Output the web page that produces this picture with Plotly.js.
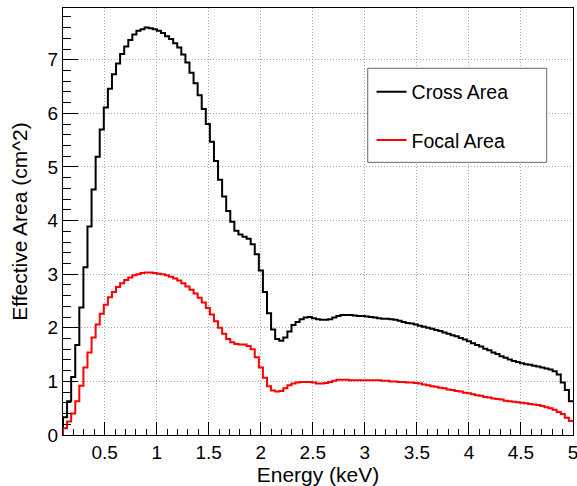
<!DOCTYPE html>
<html>
<head>
<meta charset="utf-8">
<script src="https://cdn.plot.ly/plotly-3.0.1.min.js"></script>
<style>
  html, body { margin: 0; padding: 0; background: #ffffff; }
  #chart { width: 577px; height: 486px; }
</style>
</head>
<body>
<div id="chart"></div>
<script>
// Histogram binning (keV)
const binStart = 0.1;
const binEnd = 5.0;
const nBins = 125;

// Series names
const seriesNames = ["Cross Area", "Focal Area"];

// Cross Area bin contents (cm^2)
const crossArea = [
  0.33, 0.63, 1.08, 1.68, 2.38, 3.13, 3.89, 4.58, 5.19, 5.70,
  6.11, 6.46, 6.73, 6.93, 7.11, 7.25, 7.37, 7.47, 7.54, 7.57,
  7.60, 7.59, 7.57, 7.54, 7.50, 7.44, 7.39, 7.31, 7.23, 7.10,
  6.95, 6.76, 6.56, 6.34, 6.08, 5.80, 5.47, 5.11, 4.76, 4.45,
  4.18, 3.98, 3.81, 3.74, 3.70, 3.66, 3.56, 3.37, 3.07, 2.67,
  2.27, 1.97, 1.79, 1.76, 1.82, 1.93, 2.05, 2.11, 2.16, 2.19,
  2.20, 2.18, 2.16, 2.15, 2.15, 2.16, 2.19, 2.22, 2.24, 2.24,
  2.24, 2.23, 2.22, 2.22, 2.21, 2.20, 2.19, 2.18, 2.17, 2.17,
  2.16, 2.15, 2.13, 2.11, 2.09, 2.08, 2.06, 2.04, 2.02, 2.00,
  1.98, 1.96, 1.94, 1.91, 1.89, 1.86, 1.84, 1.81, 1.78, 1.75,
  1.71, 1.68, 1.65, 1.61, 1.58, 1.54, 1.51, 1.47, 1.44, 1.41,
  1.38, 1.36, 1.34, 1.32, 1.31, 1.29, 1.28, 1.26, 1.24, 1.22,
  1.19, 1.13, 0.98, 0.84, 0.63
];

// Focal Area bin contents (cm^2)
const focalArea = [
  0.125, 0.25, 0.40, 0.63, 0.92, 1.26, 1.54, 1.82, 2.06, 2.26,
  2.43, 2.57, 2.67, 2.76, 2.83, 2.89, 2.94, 2.98, 3.00, 3.02,
  3.03, 3.03, 3.02, 3.01, 3.00, 2.98, 2.95, 2.92, 2.88, 2.83,
  2.77, 2.71, 2.64, 2.56, 2.47, 2.37, 2.25, 2.12, 2.00, 1.89,
  1.79, 1.73, 1.70, 1.69, 1.69, 1.66, 1.60, 1.45, 1.26, 1.07,
  0.91, 0.83, 0.81, 0.82, 0.87, 0.93, 0.96, 0.98, 0.99, 0.99,
  0.99, 0.98, 0.96, 0.96, 0.97, 0.99, 1.01, 1.03, 1.03, 1.03,
  1.02, 1.02, 1.02, 1.02, 1.02, 1.02, 1.02, 1.02, 1.01, 1.01,
  1.00, 1.00, 0.99, 0.99, 0.98, 0.98, 0.97, 0.96, 0.94, 0.93,
  0.91, 0.90, 0.88, 0.87, 0.85, 0.84, 0.82, 0.81, 0.79, 0.78,
  0.76, 0.74, 0.73, 0.71, 0.70, 0.68, 0.67, 0.66, 0.64, 0.63,
  0.62, 0.61, 0.60, 0.59, 0.58, 0.57, 0.56, 0.54, 0.52, 0.50,
  0.47, 0.43, 0.39, 0.32, 0.26
];

// Axis tick labels
const xTickVals = [0.5, 1, 1.5, 2, 2.5, 3, 3.5, 4, 4.5, 5];
const xTickText = ["0.5", "1", "1.5", "2", "2.5", "3", "3.5", "4", "4.5", "5"];
const yTickVals = [0, 1, 2, 3, 4, 5, 6, 7];
const yTickText = ["0", "1", "2", "3", "4", "5", "6", "7"];

// Build step outline of a histogram (ROOT-like "hist" drawing)
function histOutline(vals) {
  const w = (binEnd - binStart) / nBins;
  const xs = [binStart];
  const ys = [0];
  for (let i = 0; i < vals.length; i++) {
    xs.push(binStart + i * w);
    ys.push(vals[i]);
  }
  xs.push(binEnd);
  ys.push(vals[vals.length - 1]);
  return { x: xs, y: ys };
}

const FONT = "Liberation Sans, Arial, Helvetica, sans-serif";
const crossH = histOutline(crossArea);
const focalH = histOutline(focalArea);

const traces = [
  {
    type: "scatter", mode: "lines", name: seriesNames[0],
    x: crossH.x, y: crossH.y, legendgroup: "a",
    line: { color: "#000000", width: 2, shape: "hv" },
    hoverinfo: "skip"
  },
  {
    type: "scatter", mode: "lines", name: seriesNames[1],
    x: focalH.x, y: focalH.y, legendgroup: "b",
    line: { color: "#ff0000", width: 2, shape: "hv" },
    hoverinfo: "skip"
  }
];

const layout = {
  width: 577, height: 486,
  margin: { l: 63, r: 4, t: 8, b: 51, pad: 0 },
  paper_bgcolor: "#ffffff", plot_bgcolor: "#ffffff",
  font: { family: FONT, color: "#000000", size: 19 },
  showlegend: true,
  legend: {
    x: 0.6050, xanchor: "left", y: 0.8490, yanchor: "top",
    bgcolor: "rgba(0,0,0,0)", borderwidth: 0,
    font: { family: FONT, size: 19.5, color: "#000000" },
    traceorder: "grouped", tracegroupgap: 20
  },
  xaxis: {
    range: [binStart, binEnd],
    tickmode: "array", tickvals: xTickVals, ticktext: xTickText,
    ticks: "inside", ticklen: 13, tickwidth: 1, tickcolor: "#000000",
    minor: { dtick: 0.1, tick0: 0, ticks: "inside", ticklen: 6, tickwidth: 1, tickcolor: "#000000", showgrid: false },
    showline: true, linecolor: "#000000", linewidth: 1, mirror: true,
    showgrid: true, gridcolor: "#a8a8a8", gridwidth: 1, griddash: "1px,2px",
    zeroline: false,
    ticklabeloverflow: "allow",
    tickfont: { family: FONT, size: 19, color: "#000000" },
    title: { text: "Energy (keV)", font: { family: FONT, size: 21, color: "#000000" }, standoff: 4 },
    automargin: false, fixedrange: true
  },
  yaxis: {
    range: [0, 7.966],
    tickmode: "array", tickvals: yTickVals, ticktext: yTickText,
    ticks: "inside", ticklen: 15, tickwidth: 1, tickcolor: "#000000",
    minor: { dtick: 0.2, tick0: 0, ticks: "inside", ticklen: 8, tickwidth: 1, tickcolor: "#000000", showgrid: false },
    showline: true, linecolor: "#000000", linewidth: 1, mirror: true,
    showgrid: true, gridcolor: "#a8a8a8", gridwidth: 1, griddash: "1px,2px",
    zeroline: false,
    ticklabeloverflow: "allow",
    tickfont: { family: FONT, size: 19, color: "#000000" },
    title: { text: "Effective Area (cm^2)", font: { family: FONT, size: 21, color: "#000000" }, standoff: 14 },
    automargin: false, fixedrange: true
  },
  shapes: [
    {
      type: "rect", xref: "paper", yref: "paper", layer: "above",
      x0: 0.5975, x1: 0.9484, y0: 0.6386, y1: 0.8588,
      line: { color: "#666666", width: 1 }, fillcolor: "#ffffff"
    }
  ]
};

Plotly.newPlot("chart", traces, layout, { staticPlot: true, displayModeBar: false });
</script>
</body>
</html>
